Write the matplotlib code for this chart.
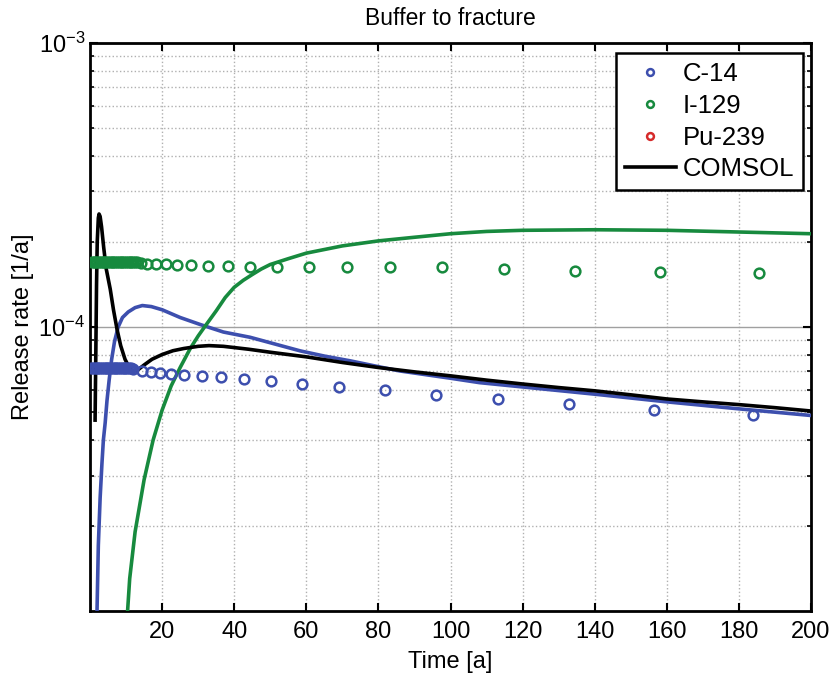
import matplotlib
matplotlib.use('Agg')
import matplotlib.pyplot as plt
import matplotlib.ticker as mt
import numpy as np

plt.rcParams['font.family'] = ['Liberation Sans', 'DejaVu Sans']
plt.rcParams['mathtext.default'] = 'regular'

# marker data
c14_x = [0.3, 0.8, 1.3, 1.8, 2.3, 2.8, 3.3, 3.8, 4.3, 4.8, 5.3, 5.8, 6.3, 6.8, 7.3, 7.8,
         8.3, 8.8, 9.3, 9.8, 10.3, 10.8, 11.3, 12.0, 14.5, 16.9, 19.3, 22.4, 26.1, 31.0,
         36.4, 42.8, 50.3, 58.9, 69.2, 81.7, 96.1, 113.1, 132.8, 156.4, 183.9]
c14_y = [7.2e-5, 7.2e-5, 7.2e-5, 7.2e-5, 7.2e-5, 7.2e-5, 7.2e-5, 7.2e-5, 7.2e-5, 7.2e-5,
         7.2e-5, 7.2e-5, 7.2e-5, 7.2e-5, 7.2e-5, 7.2e-5, 7.2e-5, 7.2e-5, 7.2e-5, 7.2e-5,
         7.2e-5, 7.2e-5, 7.2e-5, 7.13e-5, 7.0e-5, 6.95e-5, 6.9e-5, 6.85e-5, 6.8e-5, 6.7e-5,
         6.65e-5, 6.55e-5, 6.45e-5, 6.3e-5, 6.15e-5, 5.98e-5, 5.77e-5, 5.58e-5, 5.37e-5,
         5.12e-5, 4.88e-5]

i129_x = [0.5, 1.0, 1.5, 2.0, 2.5, 3.0, 3.5, 4.0, 4.5, 5.0, 5.5, 6.0, 6.5, 7.0, 7.5, 8.0,
          8.5, 9.0, 9.5, 10.0, 10.5, 11.0, 11.5, 12.0, 12.5, 13.0, 14.2, 15.9, 18.3, 21.1,
          24.1, 28.0, 32.8, 38.3, 44.4, 51.9, 60.8, 71.4, 83.3, 97.7, 114.8, 134.4, 158.0,
          185.6]
i129_y = [1.70e-4, 1.70e-4, 1.70e-4, 1.70e-4, 1.70e-4, 1.70e-4, 1.70e-4, 1.70e-4, 1.70e-4,
          1.70e-4, 1.70e-4, 1.70e-4, 1.70e-4, 1.70e-4, 1.70e-4, 1.70e-4, 1.70e-4, 1.70e-4,
          1.70e-4, 1.70e-4, 1.70e-4, 1.70e-4, 1.70e-4, 1.69e-4, 1.69e-4, 1.69e-4, 1.68e-4,
          1.67e-4, 1.66e-4, 1.66e-4, 1.65e-4, 1.65e-4, 1.64e-4, 1.64e-4, 1.63e-4, 1.63e-4,
          1.63e-4, 1.62e-4, 1.62e-4, 1.62e-4, 1.60e-4, 1.58e-4, 1.56e-4, 1.55e-4]

pu239_x = []
pu239_y = []

# solid curves
c14_line_x = [1.9, 2.3, 2.8, 3.3, 3.7, 4.2, 4.7, 5.3, 6.0, 6.8, 7.8, 9.0, 10.6, 12.5, 14.5,
              17, 20, 25, 30.6, 37, 44.4, 50, 58.3, 65, 72.2, 80, 86, 100, 108, 120, 140,
              160, 180, 200]
c14_line_y = [0.95e-5, 1.7e-5, 2.5e-5, 3.3e-5, 4.0e-5, 4.6e-5, 5.5e-5, 6.5e-5, 7.7e-5,
              8.9e-5, 1.0e-4, 1.08e-4, 1.13e-4, 1.17e-4, 1.19e-4, 1.18e-4, 1.15e-4, 1.08e-4,
              1.02e-4, 9.6e-5, 9.2e-5, 8.8e-5, 8.24e-5, 7.9e-5, 7.6e-5, 7.25e-5, 7.0e-5,
              6.6e-5, 6.37e-5, 6.15e-5, 5.8e-5, 5.45e-5, 5.15e-5, 4.88e-5]

i129_line_x = [10.3, 11, 12.5, 15, 17.5, 20, 22.5, 25, 27.8, 30, 32, 35, 37.5, 40, 42.5, 45,
               47.5, 50, 55, 60, 70, 80, 90, 100, 110, 120, 140, 160, 180, 200]
i129_line_y = [0.95e-5, 1.3e-5, 1.9e-5, 2.9e-5, 4.0e-5, 5.1e-5, 6.2e-5, 7.2e-5, 8.4e-5,
               9.3e-5, 1.01e-4, 1.14e-4, 1.27e-4, 1.38e-4, 1.46e-4, 1.53e-4, 1.60e-4,
               1.66e-4, 1.74e-4, 1.82e-4, 1.93e-4, 2.01e-4, 2.07e-4, 2.13e-4, 2.17e-4,
               2.19e-4, 2.2e-4, 2.19e-4, 2.16e-4, 2.13e-4]

comsol_x = [1.4, 1.6, 1.8, 2.0, 2.3, 2.5, 2.8, 3.2, 3.8, 4.5, 5.6, 6.5, 7.5, 8.5, 9.7, 11.0,
            12.0, 13.5, 15.0, 17.2, 20, 23, 26, 30, 33, 37, 44, 50, 60, 70, 80, 90, 100,
            110, 120, 130, 140, 150, 160, 170, 180, 190, 200]
comsol_y = [4.7e-5, 8e-5, 1.4e-4, 2.0e-4, 2.42e-4, 2.5e-4, 2.45e-4, 2.25e-4, 1.9e-4, 1.6e-4,
            1.36e-4, 1.15e-4, 9.8e-5, 8.6e-5, 7.7e-5, 7.15e-5, 7.0e-5, 7.1e-5, 7.35e-5,
            7.7e-5, 8.0e-5, 8.25e-5, 8.4e-5, 8.55e-5, 8.6e-5, 8.55e-5, 8.35e-5, 8.15e-5,
            7.85e-5, 7.5e-5, 7.2e-5, 6.95e-5, 6.73e-5, 6.5e-5, 6.3e-5, 6.12e-5, 5.96e-5,
            5.77e-5, 5.58e-5, 5.45e-5, 5.33e-5, 5.2e-5, 5.06e-5]

blue = '#3d4fae'
green = '#178a3e'
red = '#d62a2a'

fig = plt.figure(figsize=(8.36, 6.78), dpi=100)
ax = fig.add_axes([0.1077, 0.0988, 0.8624, 0.8378])

ax.plot(c14_line_x, c14_line_y, '-', color=blue, lw=2.6, zorder=3)
ax.plot(i129_line_x, i129_line_y, '-', color=green, lw=2.6, zorder=3)
ax.plot(comsol_x, comsol_y, '-', color='black', lw=2.6, zorder=4)

l1, = ax.plot(c14_x, c14_y, 'o', mfc='none', mec=blue, mew=1.8, ms=7, label='C-14', zorder=5)
l2, = ax.plot(i129_x, i129_y, 'o', mfc='none', mec=green, mew=1.8, ms=7, label='I-129', zorder=5)
l3, = ax.plot(pu239_x, pu239_y, 'o', mfc='none', mec=red, mew=1.8, ms=7, label='Pu-239')
l4, = ax.plot([], [], '-', color='black', lw=2.6, label='COMSOL')

ax.set_yscale('log')
ax.set_xlim(0, 200)
ax.set_ylim(1e-5, 1e-3)
ax.set_xticks([20, 40, 60, 80, 100, 120, 140, 160, 180, 200])
ax.set_yticks([1e-4, 1e-3])
ax.yaxis.set_major_formatter(mt.LogFormatterSciNotation())
ax.yaxis.set_minor_locator(mt.LogLocator(base=10, subs=np.arange(2, 10)))
ax.yaxis.set_minor_formatter(mt.NullFormatter())

ax.tick_params(which='both', direction='in', top=True, right=True, labelsize=17)
ax.tick_params(axis='x', which='major', pad=7)
ax.tick_params(which='major', length=6, width=1.5)
ax.tick_params(which='minor', length=3, width=1.2)
for s in ax.spines.values():
    s.set_linewidth(2)

ax.grid(True, which='major', axis='x', color='#b0b0b0', ls=':', lw=1)
ax.grid(True, which='major', axis='y', color='#a0a0a0', ls='-', lw=1)
ax.grid(True, which='minor', axis='y', color='#b0b0b0', ls=':', lw=1)
ax.set_axisbelow(True)

ax.set_xlabel('Time [a]', fontsize=17, labelpad=6)
ax.set_ylabel('Release rate [1/a]', fontsize=17, labelpad=3)
ax.set_title('Buffer to fracture', fontsize=16.5, pad=13)

leg = ax.legend(handles=[l1, l2, l3, l4], loc='upper right', fontsize=18.5,
                fancybox=False, framealpha=1, edgecolor='black',
                handlelength=2.0, handletextpad=0.25, labelspacing=0.3,
                borderpad=0.35, borderaxespad=0, markerscale=0.7,
                bbox_to_anchor=(0.989, 0.982))
leg.get_frame().set_linewidth(1.8)

fig.savefig('out.png', dpi=100)
